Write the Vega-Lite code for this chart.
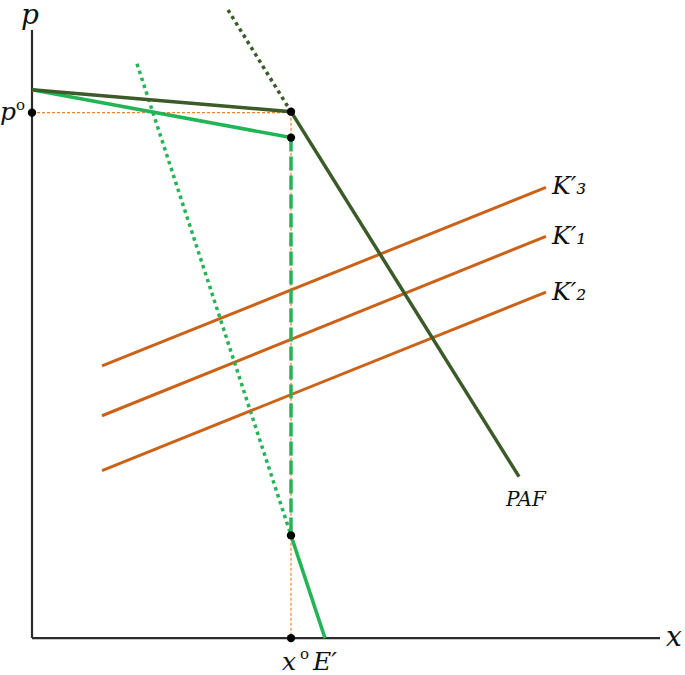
{
  "$schema": "https://vega.github.io/schema/vega-lite/v6.json",
  "width": 685,
  "height": 675,
  "autosize": {"type": "fit", "contains": "padding"},
  "padding": 0,
  "background": "white",
  "config": {"view": {"stroke": null}},
  "datasets": {
    "segs": [
      {"s": "axisY", "i": 0, "X": 0, "Y": 610},
      {"s": "axisY", "i": 1, "X": 0, "Y": 0},
      {"s": "axisX", "i": 0, "X": 0, "Y": 0},
      {"s": "axisX", "i": 1, "X": 628, "Y": 0},
      {"s": "PAF", "i": 0, "X": 0, "Y": 550},
      {"s": "PAF", "i": 1, "X": 259, "Y": 528},
      {"s": "PAF", "i": 2, "X": 487, "Y": 162},
      {"s": "Eupper", "i": 0, "X": 0, "Y": 550},
      {"s": "Eupper", "i": 1, "X": 259, "Y": 502},
      {"s": "Elower", "i": 0, "X": 259, "Y": 103},
      {"s": "Elower", "i": 1, "X": 293, "Y": 0},
      {"s": "K3", "i": 0, "X": 70, "Y": 273},
      {"s": "K3", "i": 1, "X": 514, "Y": 452},
      {"s": "K1", "i": 0, "X": 70, "Y": 223},
      {"s": "K1", "i": 1, "X": 514, "Y": 403},
      {"s": "K2", "i": 0, "X": 70, "Y": 168},
      {"s": "K2", "i": 1, "X": 514, "Y": 347},
      {"s": "PAFdot", "i": 0, "X": 196, "Y": 630},
      {"s": "PAFdot", "i": 1, "X": 259, "Y": 528},
      {"s": "Edot", "i": 0, "X": 105, "Y": 576},
      {"s": "Edot", "i": 1, "X": 259, "Y": 103},
      {"s": "Edash", "i": 0, "X": 259, "Y": 502},
      {"s": "Edash", "i": 1, "X": 259, "Y": 103},
      {"s": "guideH", "i": 0, "X": 0, "Y": 527},
      {"s": "guideH", "i": 1, "X": 259, "Y": 527},
      {"s": "guideV", "i": 0, "X": 259, "Y": 527},
      {"s": "guideV", "i": 1, "X": 259, "Y": 0}
    ],
    "pts": [
      {"X": 0, "Y": 527},
      {"X": 259, "Y": 528},
      {"X": 259, "Y": 502},
      {"X": 259, "Y": 103},
      {"X": 259, "Y": 0}
    ],
    "labels": [
      {"g": "big", "t": "p", "X": -11, "Y": 616},
      {"g": "big", "t": "x", "X": 634, "Y": -8},
      {"g": "mid", "t": "p", "X": -32, "Y": 520},
      {"g": "mid", "t": "x", "X": 250, "Y": -32},
      {"g": "mid", "t": "E′", "X": 281, "Y": -32},
      {"g": "mid", "t": "K′₃", "X": 520, "Y": 445},
      {"g": "mid", "t": "K′₁", "X": 520, "Y": 395},
      {"g": "mid", "t": "K′₂", "X": 520, "Y": 339},
      {"g": "small", "t": "o", "X": -16, "Y": 530},
      {"g": "small", "t": "o", "X": 268, "Y": -21},
      {"g": "paf", "t": "PAF", "X": 474, "Y": 132}
    ]
  },
  "encoding": {
    "x": {"field": "X", "type": "quantitative", "scale": {"domain": [-32, 653], "nice": false, "zero": false}, "axis": null},
    "y": {"field": "Y", "type": "quantitative", "scale": {"domain": [-35, 640], "nice": false, "zero": false}, "axis": null}
  },
  "layer": [
    {
      "data": {"name": "segs"},
      "transform": [{"filter": "datum.s === 'guideH' || datum.s === 'guideV'"}],
      "mark": {"type": "line", "color": "#f0832a", "strokeWidth": 1.2, "strokeDash": [3, 2]},
      "encoding": {"detail": {"field": "s"}, "order": {"field": "i"}}
    },
    {
      "data": {"name": "segs"},
      "transform": [{"filter": "datum.s === 'axisX' || datum.s === 'axisY'"}],
      "mark": {"type": "line", "color": "#2b2b2b", "strokeWidth": 2.2},
      "encoding": {"detail": {"field": "s"}, "order": {"field": "i"}}
    },
    {
      "data": {"name": "segs"},
      "transform": [{"filter": "indexof(['K1','K2','K3'], datum.s) >= 0"}],
      "mark": {"type": "line", "color": "#cc6118", "strokeWidth": 3},
      "encoding": {"detail": {"field": "s"}, "order": {"field": "i"}}
    },
    {
      "data": {"name": "segs"},
      "transform": [{"filter": "datum.s === 'Edot'"}],
      "mark": {"type": "line", "color": "#22b455", "strokeWidth": 3.5, "strokeDash": [3.5, 3.8]},
      "encoding": {"detail": {"field": "s"}, "order": {"field": "i"}}
    },
    {
      "data": {"name": "segs"},
      "transform": [{"filter": "datum.s === 'PAFdot'"}],
      "mark": {"type": "line", "color": "#3b5b28", "strokeWidth": 3.5, "strokeDash": [3.5, 3.8]},
      "encoding": {"detail": {"field": "s"}, "order": {"field": "i"}}
    },
    {
      "data": {"name": "segs"},
      "transform": [{"filter": "datum.s === 'Edash'"}],
      "mark": {"type": "line", "color": "#22b455", "strokeWidth": 3.5, "strokeDash": [14, 5]},
      "encoding": {"detail": {"field": "s"}, "order": {"field": "i"}}
    },
    {
      "data": {"name": "segs"},
      "transform": [{"filter": "datum.s === 'Eupper' || datum.s === 'Elower'"}],
      "mark": {"type": "line", "color": "#22b455", "strokeWidth": 3.5},
      "encoding": {"detail": {"field": "s"}, "order": {"field": "i"}}
    },
    {
      "data": {"name": "segs"},
      "transform": [{"filter": "datum.s === 'PAF'"}],
      "mark": {"type": "line", "color": "#3b5b28", "strokeWidth": 3.5},
      "encoding": {"detail": {"field": "s"}, "order": {"field": "i"}}
    },
    {
      "data": {"name": "pts"},
      "mark": {"type": "point", "filled": true, "color": "black", "size": 70, "opacity": 1}
    },
    {
      "data": {"name": "labels"},
      "transform": [{"filter": "datum.g === 'big'"}],
      "mark": {"type": "text", "font": "DejaVu Serif", "fontStyle": "italic", "fontSize": 28, "align": "left", "baseline": "alphabetic", "color": "#111"},
      "encoding": {"text": {"field": "t"}}
    },
    {
      "data": {"name": "labels"},
      "transform": [{"filter": "datum.g === 'mid'"}],
      "mark": {"type": "text", "font": "DejaVu Serif", "fontStyle": "italic", "fontSize": 25, "align": "left", "baseline": "alphabetic", "color": "#111"},
      "encoding": {"text": {"field": "t"}}
    },
    {
      "data": {"name": "labels"},
      "transform": [{"filter": "datum.g === 'small'"}],
      "mark": {"type": "text", "font": "DejaVu Serif", "fontSize": 15, "align": "left", "baseline": "alphabetic", "color": "#111"},
      "encoding": {"text": {"field": "t"}}
    },
    {
      "data": {"name": "labels"},
      "transform": [{"filter": "datum.g === 'paf'"}],
      "mark": {"type": "text", "font": "DejaVu Serif", "fontStyle": "italic", "fontSize": 20, "align": "left", "baseline": "alphabetic", "color": "#111"},
      "encoding": {"text": {"field": "t"}}
    }
  ]
}
